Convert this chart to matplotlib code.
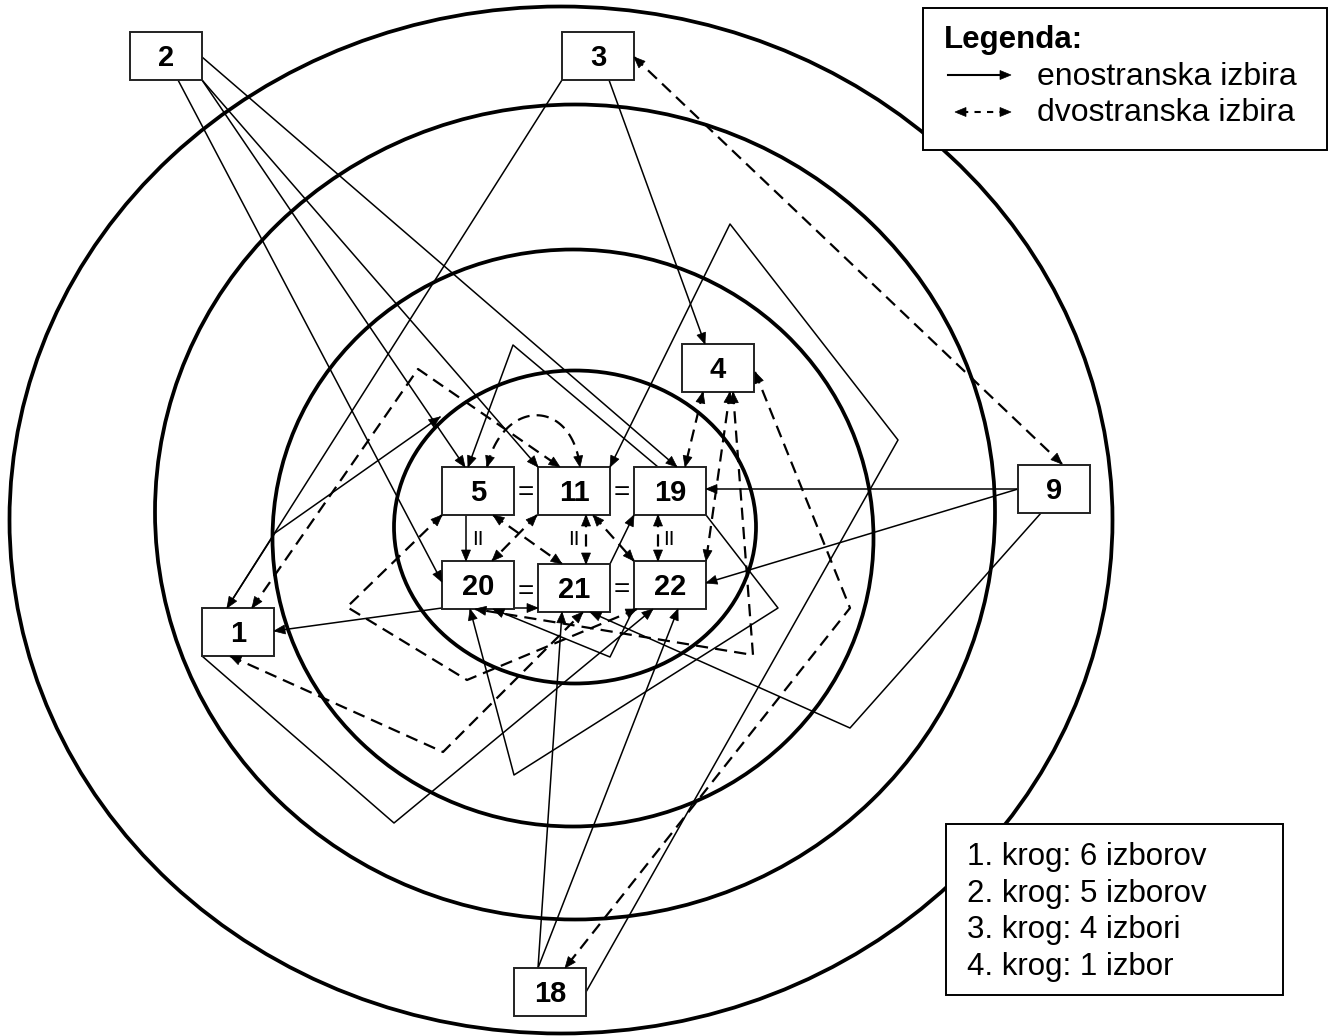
import numpy as np
import matplotlib
matplotlib.use('Agg')
import matplotlib.pyplot as plt
from matplotlib.patches import Ellipse, Rectangle, Polygon

plt.rcParams['font.family'] = ['Liberation Sans', 'DejaVu Sans']

# concentric circles (pixel coordinates of the drawing)
ring_cx = [575, 573, 575, 561]
ring_cy = [527, 538, 512, 520]
ring_w = [362, 601, 840, 1103]
ring_h = [313, 577, 815, 1027]

# persons
node_names = ['1', '2', '3', '4', '5', '9', '11', '18', '19', '20', '21', '22']
node_x = [238, 166, 598, 718, 478, 1054, 574, 550, 670, 478, 574, 670]
node_y = [632, 56, 56, 368, 491, 489, 491, 992, 491, 585, 588, 585]
box_w, box_h = 72, 48

# one-way choices: (from, anchor offset, bends, to, anchor offset)
one_way = [
    ('2', (36, 1), [], '19', (7, -24)),
    ('2', (36, 24), [], '11', (-36, -24)),
    ('2', (36, 24), [], '5', (-13, -24)),
    ('2', (12, 24), [], '20', (-36, -3)),
    ('3', (-36, 24), [], '1', (-11, -24)),
    ('3', (11, 24), [], '4', (-13, -24)),
    ('9', (-36, 0), [], '19', (36, -2)),
    ('9', (-36, 0), [], '22', (36, -2)),
    ('9', (-13, 24), [(850, 728)], '21', (16, 24)),
    ('18', (-12, -24), [], '21', (-12, 24)),
    ('18', (-12, -24), [], '22', (8, 24)),
    ('18', (36, 0), [(898, 440), (730, 224)], '11', (36, -24)),
    ('19', (-12, -24), [(513, 345)], '5', (-10, -24)),
    ('19', (36, 24), [(778, 608), (514, 775)], '20', (-8, 24)),
    ('20', (-36, 23), [], '1', (36, -1)),
    ('20', (36, 23), [], '21', (-36, 20)),
    ('21', (36, -24), [], '19', (-36, 24)),
    ('5', (-12, 24), [], '20', (-12, -24)),
    ('1', (-36, 24), [(394, 823)], '22', (-17, 24)),
    ('22', (-36, 23), [(610, 657)], '20', (15, 24)),
    ('1', (-11, -24), [(275, 533)], None, (440, 417)),
]

# two-way choices
two_way = [
    ('3', (36, 1), [], '9', (8, -25)),
    ('4', (-15, 24), [], '19', (15, -24)),
    ('4', (12, 24), [], '22', (36, -24)),
    ('4', (15, 24), [(753, 655)], '20', (-3, 24)),
    ('4', (37, 4), [(850, 608)], '18', (15, -24)),
    ('1', (14, -24), [(418, 369)], '11', (-14, -24)),
    ('1', (-8, 24), [(443, 752)], '21', (9, 24)),
    ('5', (-36, 24), [(347, 607), (467, 680)], '22', (-33, 24)),
    ('5', (15, 24), [], '21', (-12, -24)),
    ('11', (-37, 24), [], '20', (14, -24)),
    ('11', (12, 24), [], '21', (12, -24)),
    ('11', (19, 24), [], '22', (-36, -24)),
    ('19', (-12, 24), [], '22', (-12, -24)),
]
# curved two-way choice 5 <-> 11
curve_from, curve_to = ('5', (9, -24)), ('11', (6, -24))
curve_ctrl = [(503, 398), (572, 398)]

eq_x = [526, 622, 526, 622]
eq_y = [491, 491, 590, 588]
par_x = [478, 574, 669]
par_y = [537, 537, 537]

legend_title = 'Legenda:'
legend_items = ['enostranska izbira', 'dvostranska izbira']
ring_notes = ['1. krog: 6 izborov', '2. krog: 5 izborov', '3. krog: 4 izbori', '4. krog: 1 izbor']

pos = {n: (x, y) for n, x, y in zip(node_names, node_x, node_y)}


def anchor(name, off):
    if name is None:
        return np.array(off, float)
    return np.array([pos[name][0] + off[0], pos[name][1] + off[1]], float)


def head(ax, tip, frm, L=11, W=4.5, z=5):
    tip = np.asarray(tip, float)
    d = tip - np.asarray(frm, float)
    d /= np.hypot(*d)
    n = np.array([-d[1], d[0]])
    b = tip - d * L
    ax.add_patch(Polygon([tip, b + n * W, b - n * W], closed=True,
                         fc='black', ec='black', lw=0.5, zorder=z))


fig = plt.figure(figsize=(13.29, 10.36), dpi=100)
ax = fig.add_axes([0, 0, 1, 1])
ax.set_xlim(0, 1329)
ax.set_ylim(1036, 0)
ax.axis('off')

for cx, cy, w, h in zip(ring_cx, ring_cy, ring_w, ring_h):
    ax.add_patch(Ellipse((cx, cy), w, h, fill=False, ec='black', lw=2.7, zorder=1))

for a, ao, bends, b, bo in one_way:
    pts = np.array([anchor(a, ao)] + [np.array(p, float) for p in bends] + [anchor(b, bo)])
    ax.plot(pts[:, 0], pts[:, 1], color='black', lw=1.1, zorder=2)
    head(ax, pts[-1], pts[-2])

for a, ao, bends, b, bo in two_way:
    pts = np.array([anchor(a, ao)] + [np.array(p, float) for p in bends] + [anchor(b, bo)])
    ax.plot(pts[:, 0], pts[:, 1], color='black', lw=1.6, dashes=(5.5, 3.2), zorder=2)
    head(ax, pts[-1], pts[-2])
    head(ax, pts[0], pts[1])

# bezier curve 5 <-> 11
p0 = anchor(*curve_from)
p3 = anchor(*curve_to)
c1, c2 = np.array(curve_ctrl[0], float), np.array(curve_ctrl[1], float)
t = np.linspace(0, 1, 60)[:, None]
bez = (1 - t) ** 3 * p0 + 3 * (1 - t) ** 2 * t * c1 + 3 * (1 - t) * t ** 2 * c2 + t ** 3 * p3
ax.plot(bez[:, 0], bez[:, 1], color='black', lw=1.6, dashes=(5.5, 3.2), zorder=2)
head(ax, bez[0], bez[3])
head(ax, bez[-1], bez[-4])

for n in node_names:
    x, y = pos[n]
    ax.add_patch(Rectangle((x - box_w / 2, y - box_h / 2), box_w, box_h,
                           fc='white', ec='#222222', lw=1.4, zorder=4))
    ax.text(x, y + 10, n, ha='center', va='baseline', fontsize=21,
            fontweight='bold', zorder=6)

for x, y in zip(eq_x, eq_y):
    ax.text(x, y + 9, '=', ha='center', va='baseline', fontsize=20, zorder=6)
for x, y in zip(par_x, par_y):
    ax.text(x, y + 8, 'II', ha='center', va='baseline', fontsize=15, zorder=6)

# legend
ax.add_patch(Rectangle((923, 8), 404, 142, fc='white', ec='black', lw=1.4, zorder=6))
ax.text(944, 48, legend_title, fontsize=22.5, fontweight='bold', va='baseline', zorder=7)
ax.text(1037, 85, legend_items[0], fontsize=23, va='baseline', zorder=7)
ax.text(1037, 121, legend_items[1], fontsize=23, va='baseline', zorder=7)
ax.plot([948, 1005], [75, 75], color='black', lw=1.5, zorder=7)
head(ax, (1011, 75), (948, 75), L=11, W=4.5, z=8)
ax.plot([962, 1004], [112, 112], color='black', lw=1.5, dashes=(3, 3), zorder=7)
head(ax, (1011, 112), (956, 112), L=11, W=4.5, z=8)
head(ax, (955, 112), (1011, 112), L=11, W=4.5, z=8)

# ring summary box
ax.add_patch(Rectangle((946, 824), 337, 171, fc='white', ec='black', lw=1.4, zorder=6))
for i, s in enumerate(ring_notes):
    ax.text(967, 865 + i * 36.7, s, fontsize=22.5, va='baseline', zorder=7)

fig.savefig('out.png', dpi=100)
